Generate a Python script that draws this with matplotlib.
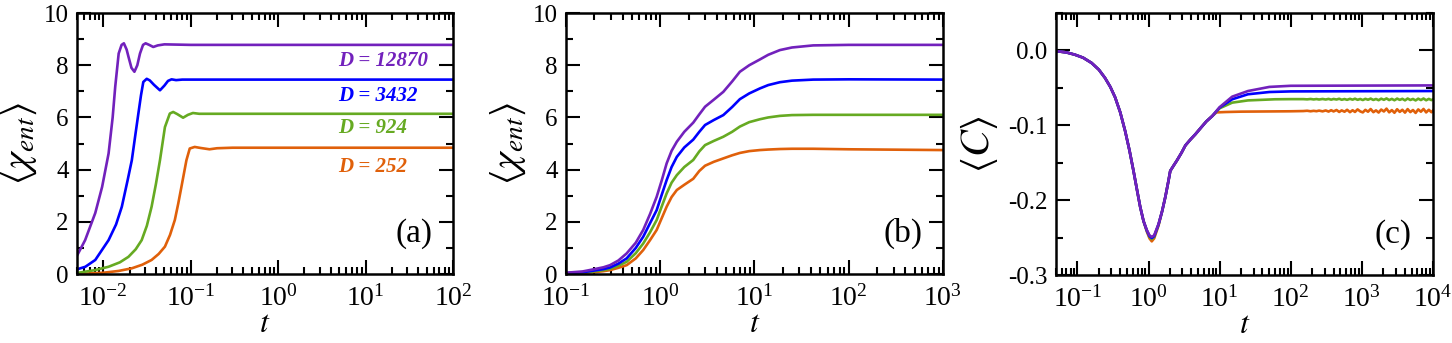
import numpy as np
import matplotlib
matplotlib.use('Agg')
import matplotlib.pyplot as plt
from matplotlib.ticker import LogLocator, MultipleLocator, FuncFormatter, NullFormatter

plt.rcParams['font.family'] = ['Liberation Serif', 'DejaVu Serif']
plt.rcParams['mathtext.fontset'] = 'stix'
plt.rcParams['axes.unicode_minus'] = False

# colours and labels of the four sizes
colors = {'252': '#e0600a', '924': '#66aa22', '3432': '#0000ff', '12870': '#7221bc'}
sizes = ['252', '924', '3432', '12870']

# ---- panel (a): <chi_ent> vs t, rescaled time
ta_12870 = [0.005, 0.0062, 0.0081, 0.0097, 0.0115, 0.0128, 0.0137, 0.0150, 0.0162, 0.0172, 0.0185,
            0.0194, 0.0210, 0.0227, 0.0245, 0.0263, 0.0285, 0.0305, 0.0335, 0.0373, 0.042, 0.05, 0.1, 1, 100]
ya_12870 = [0.70, 1.30, 2.34, 3.34, 4.62, 6.0, 7.18, 8.45, 8.78, 8.84, 8.6,
            8.33, 7.9, 7.75, 8.0, 8.45, 8.78, 8.84, 8.78, 8.70, 8.76, 8.80, 8.78, 8.78, 8.78]
ta_3432 = [0.005, 0.00624, 0.0081, 0.0115, 0.014, 0.0163, 0.019, 0.0212, 0.0232, 0.0252, 0.0270, 0.0287,
           0.0314, 0.034, 0.038, 0.0445, 0.050, 0.055, 0.0604, 0.068, 0.08, 1, 100]
ya_3432 = [0.18, 0.28, 0.54, 1.3, 1.9, 2.58, 3.6, 4.36, 5.3, 6.15, 6.85, 7.36,
           7.48, 7.42, 7.25, 7.04, 7.22, 7.40, 7.46, 7.43, 7.45, 7.45, 7.45]
ta_924 = [0.005, 0.008, 0.0115, 0.0155, 0.0194, 0.0235, 0.0275, 0.0315, 0.0357, 0.040, 0.0445, 0.0507,
          0.0577, 0.063, 0.070, 0.0818, 0.093, 0.106, 0.125, 1, 100]
ya_924 = [0.04, 0.15, 0.28, 0.45, 0.66, 0.95, 1.3, 1.85, 2.58, 3.45, 4.36, 5.63,
          6.15, 6.21, 6.13, 5.99, 6.10, 6.17, 6.14, 6.14, 6.14]
ta_252 = [0.005, 0.01, 0.015, 0.0212, 0.028, 0.0357, 0.043, 0.0507, 0.058, 0.0658, 0.072, 0.0783,
          0.0893, 0.0975, 0.111, 0.13, 0.164, 0.2, 0.3, 1, 100]
ya_252 = [0.0, 0.05, 0.12, 0.22, 0.36, 0.54, 0.77, 1.05, 1.5, 2.07, 2.7, 3.34,
          4.36, 4.81, 4.87, 4.83, 4.78, 4.82, 4.84, 4.84, 4.84]

# ---- panel (b): <chi_ent> vs t
tb = [0.1, 0.15, 0.195, 0.25, 0.293, 0.36, 0.44, 0.55, 0.66, 0.78, 0.917, 1.04, 1.17, 1.32, 1.5, 1.8,
      2.24, 2.6, 2.99, 3.7, 4.67, 5.8, 7.0, 8.8, 11.4, 14, 18.6, 25, 42, 100, 1000]
yb_12870 = [0.05, 0.1, 0.18, 0.26, 0.34, 0.52, 0.79, 1.2, 1.69, 2.3, 2.96, 3.6, 4.24, 4.72, 5.07, 5.45,
            5.8, 6.12, 6.41, 6.68, 6.98, 7.38, 7.75, 8.0, 8.22, 8.4, 8.58, 8.68, 8.76, 8.78, 8.78]
yb_3432 = [0.03, 0.07, 0.13, 0.19, 0.25, 0.4, 0.6, 1.0, 1.43, 1.95, 2.45, 3.05, 3.6, 4.1, 4.49, 4.85,
           5.15, 5.45, 5.71, 5.9, 6.09, 6.4, 6.7, 6.92, 7.11, 7.24, 7.35, 7.41, 7.45, 7.46, 7.45]
yb_924 = [0.03, 0.06, 0.10, 0.15, 0.2, 0.32, 0.47, 0.8, 1.17, 1.6, 2.07, 2.6, 3.09, 3.5, 3.79, 4.1,
          4.37, 4.7, 4.94, 5.1, 5.26, 5.45, 5.65, 5.82, 5.93, 6.0, 6.06, 6.09, 6.1, 6.1, 6.1]
yb_252 = [0.02, 0.04, 0.07, 0.11, 0.15, 0.24, 0.34, 0.6, 0.92, 1.3, 1.69, 2.15, 2.58, 2.95, 3.22, 3.42,
          3.65, 3.95, 4.15, 4.3, 4.43, 4.55, 4.64, 4.71, 4.75, 4.77, 4.79, 4.8, 4.8, 4.78, 4.75]

# ---- panel (c): <C> vs t, common early part then separate tails
tc_common = [0.048, 0.07, 0.092, 0.12, 0.158, 0.2, 0.244, 0.29, 0.339, 0.4, 0.469, 0.54, 0.614, 0.69,
             0.763, 0.85, 0.946, 1.03, 1.11, 1.2, 1.38, 1.55, 1.72, 1.9, 2.02, 2.25, 2.51, 2.9, 3.3,
             3.9, 4.57, 5.5, 6.5, 7.84]
yc_common = [-0.001, -0.003, -0.006, -0.010, -0.017, -0.026, -0.037, -0.049, -0.063, -0.083, -0.108,
             -0.134, -0.161, -0.187, -0.209, -0.228, -0.240, -0.247, -0.249, -0.247, -0.232, -0.215,
             -0.196, -0.175, -0.161, -0.154, -0.147, -0.137, -0.127, -0.119, -0.112, -0.103, -0.095, -0.088]
# extra depth at the minimum for each size
dip_c = {'252': -0.006, '924': -0.003, '3432': -0.0015, '12870': 0.0}

# late-time fluctuating part
tc_late = [150, 170, 190, 210, 230, 250, 280,
           310, 340, 370, 400, 440, 480, 520,
           570, 620, 680, 740, 800, 870, 950,
           1030, 1120, 1220, 1330, 1450, 1580, 1720,
           1870, 2040, 2220, 2420, 2640, 2870, 3130,
           3410, 3710, 4040, 4400, 4800, 5230, 5700,
           6200, 6760, 7360, 8020, 8740, 9520, 10000]
yc_late_252 = [-0.0812, -0.0808, -0.0815, -0.0809, -0.0814, -0.0806, -0.0816,
               -0.0804, -0.0819, -0.0801, -0.0817, -0.0798, -0.0824, -0.0803,
               -0.0821, -0.0795, -0.0827, -0.0801, -0.0824, -0.0790, -0.0817,
               -0.0830, -0.0796, -0.0821, -0.0785, -0.0827, -0.0803, -0.0832,
               -0.0792, -0.0818, -0.0780, -0.0829, -0.0799, -0.0835, -0.0788,
               -0.0823, -0.0795, -0.0833, -0.0786, -0.0826, -0.0798, -0.0837,
               -0.0790, -0.0821, -0.0784, -0.0830, -0.0795, -0.0828, -0.0805]
yc_late_924 = [-0.0653, -0.0656, -0.0651, -0.0657, -0.0652, -0.0658, -0.0651,
               -0.0658, -0.0650, -0.0660, -0.0651, -0.0658, -0.0648, -0.0661,
               -0.0652, -0.0662, -0.0649, -0.0660, -0.0647, -0.0662, -0.0651,
               -0.0665, -0.0649, -0.0661, -0.0646, -0.0664, -0.0651, -0.0667,
               -0.0647, -0.0662, -0.0644, -0.0665, -0.0650, -0.0668, -0.0646,
               -0.0663, -0.0649, -0.0669, -0.0645, -0.0664, -0.0651, -0.0670,
               -0.0647, -0.0665, -0.0645, -0.0668, -0.0650, -0.0666, -0.0656]

tc_tail = {'252': [9, 12, 20, 100] + tc_late,
           '924': [10, 15, 25, 60, 100] + tc_late,
           '3432': [10, 15, 25, 50, 100, 1e4],
           '12870': [10, 15, 25, 50, 100, 1e4]}
yc_tail = {'252': [-0.083, -0.0825, -0.082, -0.0815] + yc_late_252,
           '924': [-0.0775, -0.070, -0.067, -0.0655, -0.0653] + yc_late_924,
           '3432': [-0.0765, -0.0655, -0.0588, -0.0558, -0.055, -0.0545],
           '12870': [-0.076, -0.062, -0.0545, -0.049, -0.0475, -0.047]}

ta = {'252': ta_252, '924': ta_924, '3432': ta_3432, '12870': ta_12870}
ya = {'252': ya_252, '924': ya_924, '3432': ya_3432, '12870': ya_12870}
yb = {'252': yb_252, '924': yb_924, '3432': yb_3432, '12870': yb_12870}

fig = plt.figure(figsize=(14.52, 3.43), dpi=100)
axa = fig.add_axes([0.053, 0.201, 0.259, 0.761])
axb = fig.add_axes([0.3898, 0.201, 0.2596, 0.761])
axc = fig.add_axes([0.7273, 0.198, 0.2596, 0.765])

lw = 1.9
for s in sizes:
    axa.plot(ta[s], ya[s], color=colors[s], lw=lw)
    axb.plot(tb, yb[s], color=colors[s], lw=lw)
    yc = list(yc_common)
    i_min = yc.index(min(yc))
    for j in range(i_min - 2, i_min + 3):
        yc[j] += dip_c[s] * (1 - abs(j - i_min) / 3)
    axc.plot(tc_common + tc_tail[s], yc + yc_tail[s], color=colors[s], lw=lw)

# size labels in panel (a)
label_y = {'12870': 8.16, '3432': 6.82, '924': 5.59, '252': 4.1}
for s in sizes:
    axa.text(4.9, label_y[s], 'D = ' + s, color=colors[s], fontsize=15,
             fontweight='bold', fontstyle='italic', va='center', ha='left')


def decade_fmt(x, pos):
    return r'$\mathregular{10^{%d}}$' % int(round(np.log10(x)))


for ax in (axa, axb, axc):
    ax.set_xscale('log')
    ax.xaxis.set_major_locator(LogLocator(base=10, numticks=20))
    ax.xaxis.set_minor_locator(LogLocator(base=10, subs=np.arange(2, 10), numticks=20))
    ax.xaxis.set_major_formatter(FuncFormatter(decade_fmt))
    ax.xaxis.set_minor_formatter(NullFormatter())
    ax.tick_params(which='both', direction='in', top=True, right=True, width=1.5)
    ax.tick_params(which='major', length=10)
    ax.tick_params(which='minor', length=5)
    ax.tick_params(axis='x', which='major', pad=8, labelsize=20)
    ax.tick_params(axis='y', which='major', pad=6, labelsize=18)
    for sp in ax.spines.values():
        sp.set_linewidth(1.8)
    ax.set_xlabel(r'$t$', fontsize=23, labelpad=-1.5)

axa.set_xlim(0.005, 100)
axb.set_xlim(0.1, 1000)
axc.set_xlim(0.05, 1e4)
for ax in (axa, axb):
    ax.set_ylim(0, 10)
    ax.yaxis.set_major_locator(MultipleLocator(2))
    ax.yaxis.set_minor_locator(MultipleLocator(1))
    ax.set_ylabel(r'$\langle\chi_{ent}\rangle$', fontsize=28, labelpad=3)
axc.set_ylim(-0.3, 0.05)
axc.yaxis.set_major_locator(MultipleLocator(0.1))
axc.yaxis.set_minor_locator(MultipleLocator(0.05))
axc.yaxis.set_major_formatter(FuncFormatter(lambda v, p: '%.1f' % v if abs(v) > 1e-9 else '0.0'))
axc.set_ylabel(r'$\langle C\rangle$', fontsize=29, labelpad=6)

for ax, lab in ((axa, '(a)'), (axb, '(b)'), (axc, '(c)')):
    ax.text(0.895, 0.155, lab, transform=ax.transAxes, fontsize=24, ha='center', va='center')

fig.savefig('out.png', dpi=100)
